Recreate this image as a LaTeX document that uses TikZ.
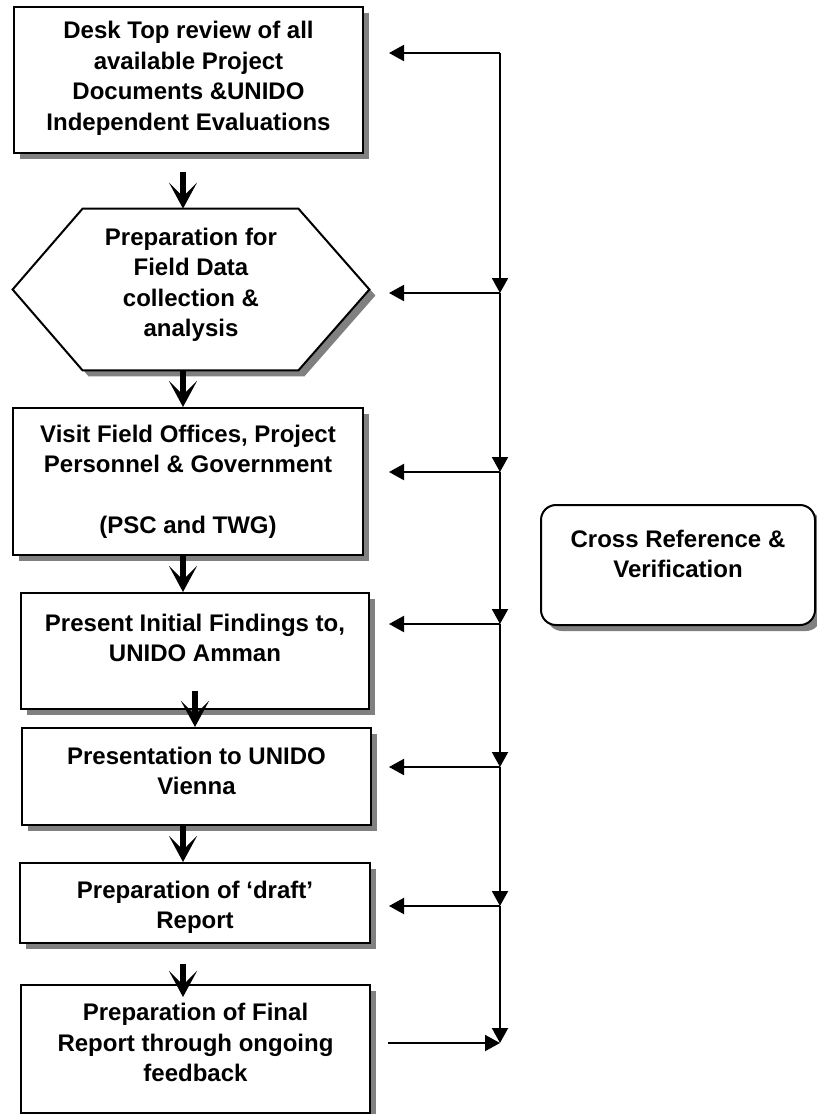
\documentclass[tikz,border=0pt]{standalone}
\usepackage{fontspec}
\setmainfont{Liberation Sans}
\usetikzlibrary{arrows.meta,shadows}
\begin{document}
\begin{tikzpicture}[x=0.5pt,y=-0.5pt,
  shd/.style={drop shadow={shadow xshift=3pt,shadow yshift=-3pt,fill=black!50,opacity=1}},
  stepbox/.style={draw=black,line width=1pt,fill=white,shd,inner sep=0pt},
  txt/.style={font=\bfseries\fontsize{12pt}{15.2pt}\selectfont,align=center,inner sep=0pt,anchor=base},
  bigarrow/.style={line width=3pt,-{Stealth[length=13pt,width=14pt,inset=7pt]}},
  thinarrow/.style={line width=1pt,-{Triangle[length=7.5pt,width=8pt]}}
]
\useasboundingbox (0,0) rectangle (816,1114);
% boxes
\node[stepbox,minimum width=174.5pt,minimum height=73pt] (b1) at (188.5,80) {};
\node[minimum width=178pt,minimum height=80.5pt,inner sep=0pt] (hex) at (191,289.5) {};
\draw[line width=1pt,fill=white,shd,line join=miter]
  (hex.west) -- ([xshift=35pt]hex.north west) -- ([xshift=-35.5pt]hex.north east)
  -- (hex.east) -- ([xshift=-35.5pt]hex.south east) -- ([xshift=35pt]hex.south west) -- cycle;
\node[stepbox,minimum width=175pt,minimum height=73.5pt] (b3) at (188,481.5) {};
\node[stepbox,minimum width=174pt,minimum height=58pt] (b4) at (195,651) {};
\node[stepbox,minimum width=174.5pt,minimum height=48.5pt] (b5) at (196.5,776.5) {};
\node[stepbox,minimum width=175pt,minimum height=40pt] (b6) at (195,903) {};
\node[stepbox,minimum width=174.5pt,minimum height=64pt] (b7) at (195.5,1049) {};
\node[stepbox,rounded corners=7.5pt,minimum width=137pt,minimum height=60pt] (cr) at (678,565) {};
% texts (anchored at the baseline of the last line)
\node[txt] (tx1) at (188.5,130) {Desk Top review of all\\available Project\\Documents \&UNIDO\\Independent Evaluations};
\node[txt] (txh) at (191,336.6) {Preparation for\\Field Data\\collection \&\\analysis};
\node[txt] (tx3) at (188,533.6) {Visit Field Offices, Project\\Personnel \& Government\\[15.2pt](PSC and TWG)};
\node[txt] (tx4) at (195,661.6) {Present Initial Findings to,\\UNIDO Amman};
\node[txt] (tx5) at (196.5,794.6) {Presentation to UNIDO\\Vienna};
\node[txt] (tx6) at (195,928.6) {Preparation of ‘draft’\\Report};
\node[txt] (tx7) at (195.5,1081.6) {Preparation of Final\\Report through ongoing\\feedback};
\node[txt] (txc) at (678,577.6) {Cross Reference \&\\Verification};
% thick flow arrows
\draw[bigarrow] ([xshift=-2.75pt,yshift=-9pt]b1.south) -- ([xshift=-4pt]hex.north);
\draw[bigarrow] ([xshift=-4pt]hex.south) -- ([xshift=-4pt]hex.south |- b3.north);
\draw[bigarrow] ([xshift=-2.5pt]b3.south) -- ([xshift=-2.5pt]b3.south |- b4.north);
\draw[bigarrow] ([yshift=9.5pt]b4.south) -- (b4.south |- b5.north);
\draw[bigarrow] ([xshift=-6.75pt]b5.south) -- ([xshift=-6.75pt]b5.south |- b6.north);
\draw[bigarrow] ([xshift=-6pt,yshift=-10pt]b6.south) -- ([xshift=-6.25pt,yshift=-6.5pt]b7.north);
% feedback network
\coordinate (j0) at (500,53);
\coordinate (j1) at (500,293);
\coordinate (j2) at (500,472);
\coordinate (j3) at (500,624);
\coordinate (j4) at (500,767);
\coordinate (j5) at (500,906);
\coordinate (j6) at (500,1043);
\coordinate (t0) at (389,53);
\coordinate (t1) at (389,293);
\coordinate (t2) at (389,472);
\coordinate (t3) at (389,624);
\coordinate (t4) at (389,767);
\coordinate (t5) at (389,906);
\coordinate (f0) at (388,1043);
\foreach \a/\b in {j0/j1,j1/j2,j2/j3,j3/j4,j4/j5,j5/j6}
  \draw[thinarrow] (\a) -- (\b);
\foreach \a/\b in {j0/t0,j1/t1,j2/t2,j3/t3,j4/t4,j5/t5}
  \draw[thinarrow] (\a) -- (\b);
\draw[thinarrow] (f0) -- (j6);
\end{tikzpicture}
\end{document}
